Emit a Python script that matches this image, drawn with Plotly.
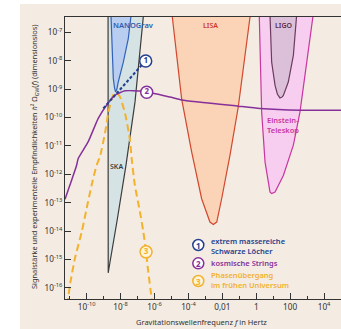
import plotly.graph_objects as go

# ---- data (log10 values) ----
ska_logf = [-8.74, -8.74, -8.73, -8.70, -8.20, -7.68, -7.15, -6.62]
ska_logh = [-6.20, -15.30, -15.47, -15.35, -13.60, -11.67, -9.45, -6.20]

nano_logf = [-8.58, -8.50, -8.43, -8.36, -8.30, -8.22, -8.14, -7.84, -7.55, -7.34]
nano_logh = [-6.20, -7.60, -8.63, -8.95, -9.10, -9.00, -8.75, -8.05, -7.23, -6.20]

lisa_logf = [-5.00, -4.40, -3.81, -3.22, -2.73, -2.53, -2.33, -2.04, -1.55, -1.06, -0.31]
lisa_logh = [-6.20, -9.34, -11.21, -12.86, -13.68, -13.77, -13.68, -12.86, -11.33, -9.63, -6.20]

et_logf = [0.17, 0.32, 0.52, 0.81, 0.91, 1.11, 1.60, 2.19, 2.58, 2.98, 3.40]
et_logh = [-6.20, -9.81, -11.57, -12.62, -12.68, -12.62, -12.04, -10.97, -9.81, -8.05, -6.20]

ligo_logf = [0.80, 0.91, 1.11, 1.25, 1.40, 1.52, 1.60, 1.89, 2.19, 2.41]
ligo_logh = [-6.20, -8.05, -8.87, -9.18, -9.31, -9.28, -9.22, -8.75, -7.81, -6.20]

strings_logf = [-11.28, -10.99, -10.59, -10.50, -9.91, -9.32, -8.82, -8.33, -7.74, -6.76,
                -5.09, -4.39, -1.06, 0.22, 2.59, 5.0]
strings_logh = [-12.88, -12.38, -11.67, -11.44, -10.85, -10.03, -9.56, -9.21, -9.06, -9.07,
                -9.28, -9.38, -9.60, -9.68, -9.74, -9.74]

smbh_logf = [-9.02, -6.75]
smbh_logh = [-9.68, -8.15]

phase_logf = [-11.15, -11.09, -10.99, -10.69, -10.29, -10.0, -9.71, -9.41, -9.22, -8.92, -8.73,
              -8.51, -8.36, -8.20, -8.04, -7.74, -7.45, -7.35, -7.16, -6.86, -6.66, -6.50,
              -6.37, -6.17, -6.14]
phase_logh = [-16.60, -16.36, -15.90, -14.95, -14.02, -13.19, -12.38, -11.67, -11.38, -10.55, -9.85,
              -9.31, -9.14, -9.16, -9.27, -9.85, -10.79, -11.43, -12.38, -13.32, -14.02, -14.73,
              -15.43, -16.36, -16.50]

marker_logf = [-6.52, -6.46, -6.50]
marker_logh = [-8.01, -9.11, -14.73]
marker_text = ["1", "2", "3"]

x_tick_exp = [-10, -8, -6, -4, -2, 0, 2, 4]
x_tick_text = ["10<sup>-10</sup>", "10<sup>-8</sup>", "10<sup>-6</sup>", "10<sup>-4</sup>",
               "0,01", "1", "100", "10<sup>4</sup>"]
x_minor_exp = [-11, -9, -7, -5, -3, -1, 1, 3, 5]
y_tick_exp = [-7, -8, -9, -10, -11, -12, -13, -14, -15, -16]
y_tick_text = ["10<sup>%d</sup>" % e for e in y_tick_exp]

legend_text = ["extrem massereiche<br>Schwarze Löcher", "kosmische Strings",
               "Phasenübergang<br>im frühen Universum"]

# ---- styles ----
BG = "#f4ebe2"
FONT = "Noto Sans"
NAVY = "#23408f"
PURPLE = "#86309a"
ORANGE = "#f2b22c"
MAGENTA = "#c8369f"


def p10(v):
    return [10 ** a for a in v]


fig = go.Figure()


def region(lf, lh, fill, line):
    fig.add_trace(go.Scatter(x=p10(lf), y=p10(lh), mode="lines", fill="toself",
                             fillcolor=fill, line=dict(color=line, width=1.2),
                             hoverinfo="skip", showlegend=False))


region(ska_logf, ska_logh, "#d6e3e5", "#3c3c3c")
region(nano_logf, nano_logh, "#b8cdef", "#3262b8")
region(lisa_logf, lisa_logh, "#fbd3b6", "#d2482f")
region(et_logf, et_logh, "#f7cdf0", MAGENTA)
region(ligo_logf, ligo_logh, "#dcc0da", "#6b3c5e")

fig.add_trace(go.Scatter(x=p10(phase_logf), y=p10(phase_logh), mode="lines",
                         line=dict(color=ORANGE, width=2, dash="7px,4px", shape="spline",
                                   smoothing=0.6),
                         showlegend=False))
fig.add_trace(go.Scatter(x=p10(strings_logf), y=p10(strings_logh), mode="lines",
                         line=dict(color=PURPLE, width=1.5, shape="spline", smoothing=0.5),
                         showlegend=False))
fig.add_trace(go.Scatter(x=p10(smbh_logf), y=p10(smbh_logh), mode="lines",
                         line=dict(color=NAVY, width=2, dash="3px,2px"),
                         showlegend=False))

fig.add_trace(go.Scatter(
    x=p10(marker_logf), y=p10(marker_logh), mode="markers+text", text=marker_text,
    textposition="middle center",
    textfont=dict(family=FONT, size=8, color=[NAVY, PURPLE, ORANGE], weight=700),
    marker=dict(size=12, color=["white", "white", "#fdf4d9"],
                line=dict(color=[NAVY, PURPLE, ORANGE], width=1.5)),
    showlegend=False))


def px_x(px):
    return (px - 65) / 276


def px_y(py):
    return (299 - py) / 282


shapes = [dict(type="rect", xref="paper", yref="paper", x0=px_x(20), x1=px_x(345),
               y0=px_y(335), y1=px_y(4), fillcolor=BG, line=dict(width=0), layer="below")]
annotations = []
leg_colors = [NAVY, PURPLE, ORANGE]
leg_fill = ["white", "white", "#fdf4d9"]
leg_cy = [245, 263.3, 281]
leg_ty = [245.5, 263.3, 279.5]
for i in range(3):
    cx, cy, r = 198.3, leg_cy[i], 5.5
    shapes.append(dict(type="circle", xref="paper", yref="paper",
                       x0=px_x(cx - r), x1=px_x(cx + r), y0=px_y(cy + r), y1=px_y(cy - r),
                       fillcolor=leg_fill[i], line=dict(color=leg_colors[i], width=1.5)))
    annotations.append(dict(xref="paper", yref="paper", x=px_x(cx), y=px_y(cy),
                            xanchor="center", yanchor="middle",
                            text=marker_text[i], showarrow=False,
                            font=dict(family=FONT, size=8, color=leg_colors[i], weight=700)))
    annotations.append(dict(xref="paper", yref="paper", x=px_x(209), y=px_y(leg_ty[i]),
                            xanchor="left", yanchor="middle", align="left",
                            text=legend_text[i], showarrow=False,
                            font=dict(family=FONT, size=7.5, color=leg_colors[i], weight=600)))

labels = [
    ("NANOGrav", 133.5, 25, "#2f5db2", "center", 7.5),
    ("LISA", 210, 26, "#cc3a2a", "center", 7),
    ("LIGO", 283, 26, "#5a2a4a", "center", 7),
    ("SKA", 116, 166, "#3c3c3c", "center", 7),
    ("Einstein-<br>Teleskop", 265, 125, MAGENTA, "left", 7.5),
]
for t, x, y, c, anc, fs in labels:
    annotations.append(dict(xref="paper", yref="paper", x=px_x(x), y=px_y(y), text=t,
                            xanchor=anc, yanchor="middle", align="left", showarrow=False,
                            font=dict(family=FONT, size=fs, color=c, weight=600)))

annotations.append(dict(
    xref="paper", yref="paper", x=px_x(35), y=px_y(157), textangle=-90, showarrow=False,
    xanchor="center", yanchor="middle",
    text="Signalstärke und experimentelle Empfindlichkeiten <i>h</i>² Ω<sub>GW</sub>(<i>f</i>) (dimensionslos)",
    font=dict(family=FONT, size=7.4, color="#333")))
annotations.append(dict(
    xref="paper", yref="paper", x=px_x(201), y=px_y(322), showarrow=False,
    xanchor="center", yanchor="middle",
    text="Gravitationswellenfrequenz <i>f</i> in Hertz",
    font=dict(family=FONT, size=7.5, color="#333")))

fig.update_layout(
    width=341, height=329, margin=dict(l=65, r=0, t=17, b=30),
    paper_bgcolor="white", plot_bgcolor="rgba(0,0,0,0)",
    shapes=shapes, annotations=annotations, showlegend=False,
    font=dict(family=FONT, size=8, color="#333"),
)
fig.update_xaxes(type="log", range=[-11.28, 5.0], tickmode="array",
                 tickvals=p10(x_tick_exp), ticktext=x_tick_text,
                 ticks="inside", ticklen=6, tickwidth=1, tickcolor="#333",
                 minor=dict(tickmode="array", tickvals=p10(x_minor_exp), ticks="inside",
                            ticklen=3, tickcolor="#333", showgrid=False),
                 showline=True, linecolor="#333", linewidth=1, mirror=True,
                 showgrid=False, zeroline=False, tickfont=dict(size=8.2))
fig.update_yaxes(type="log", range=[-16.39, -6.46], tickmode="array",
                 tickvals=p10(y_tick_exp), ticktext=y_tick_text,
                 ticks="inside", ticklen=6, tickwidth=1, tickcolor="#333",
                 showline=True, linecolor="#333", linewidth=1,
                 showgrid=False, zeroline=False, tickfont=dict(size=8.2))

fig.write_html("out.html")
